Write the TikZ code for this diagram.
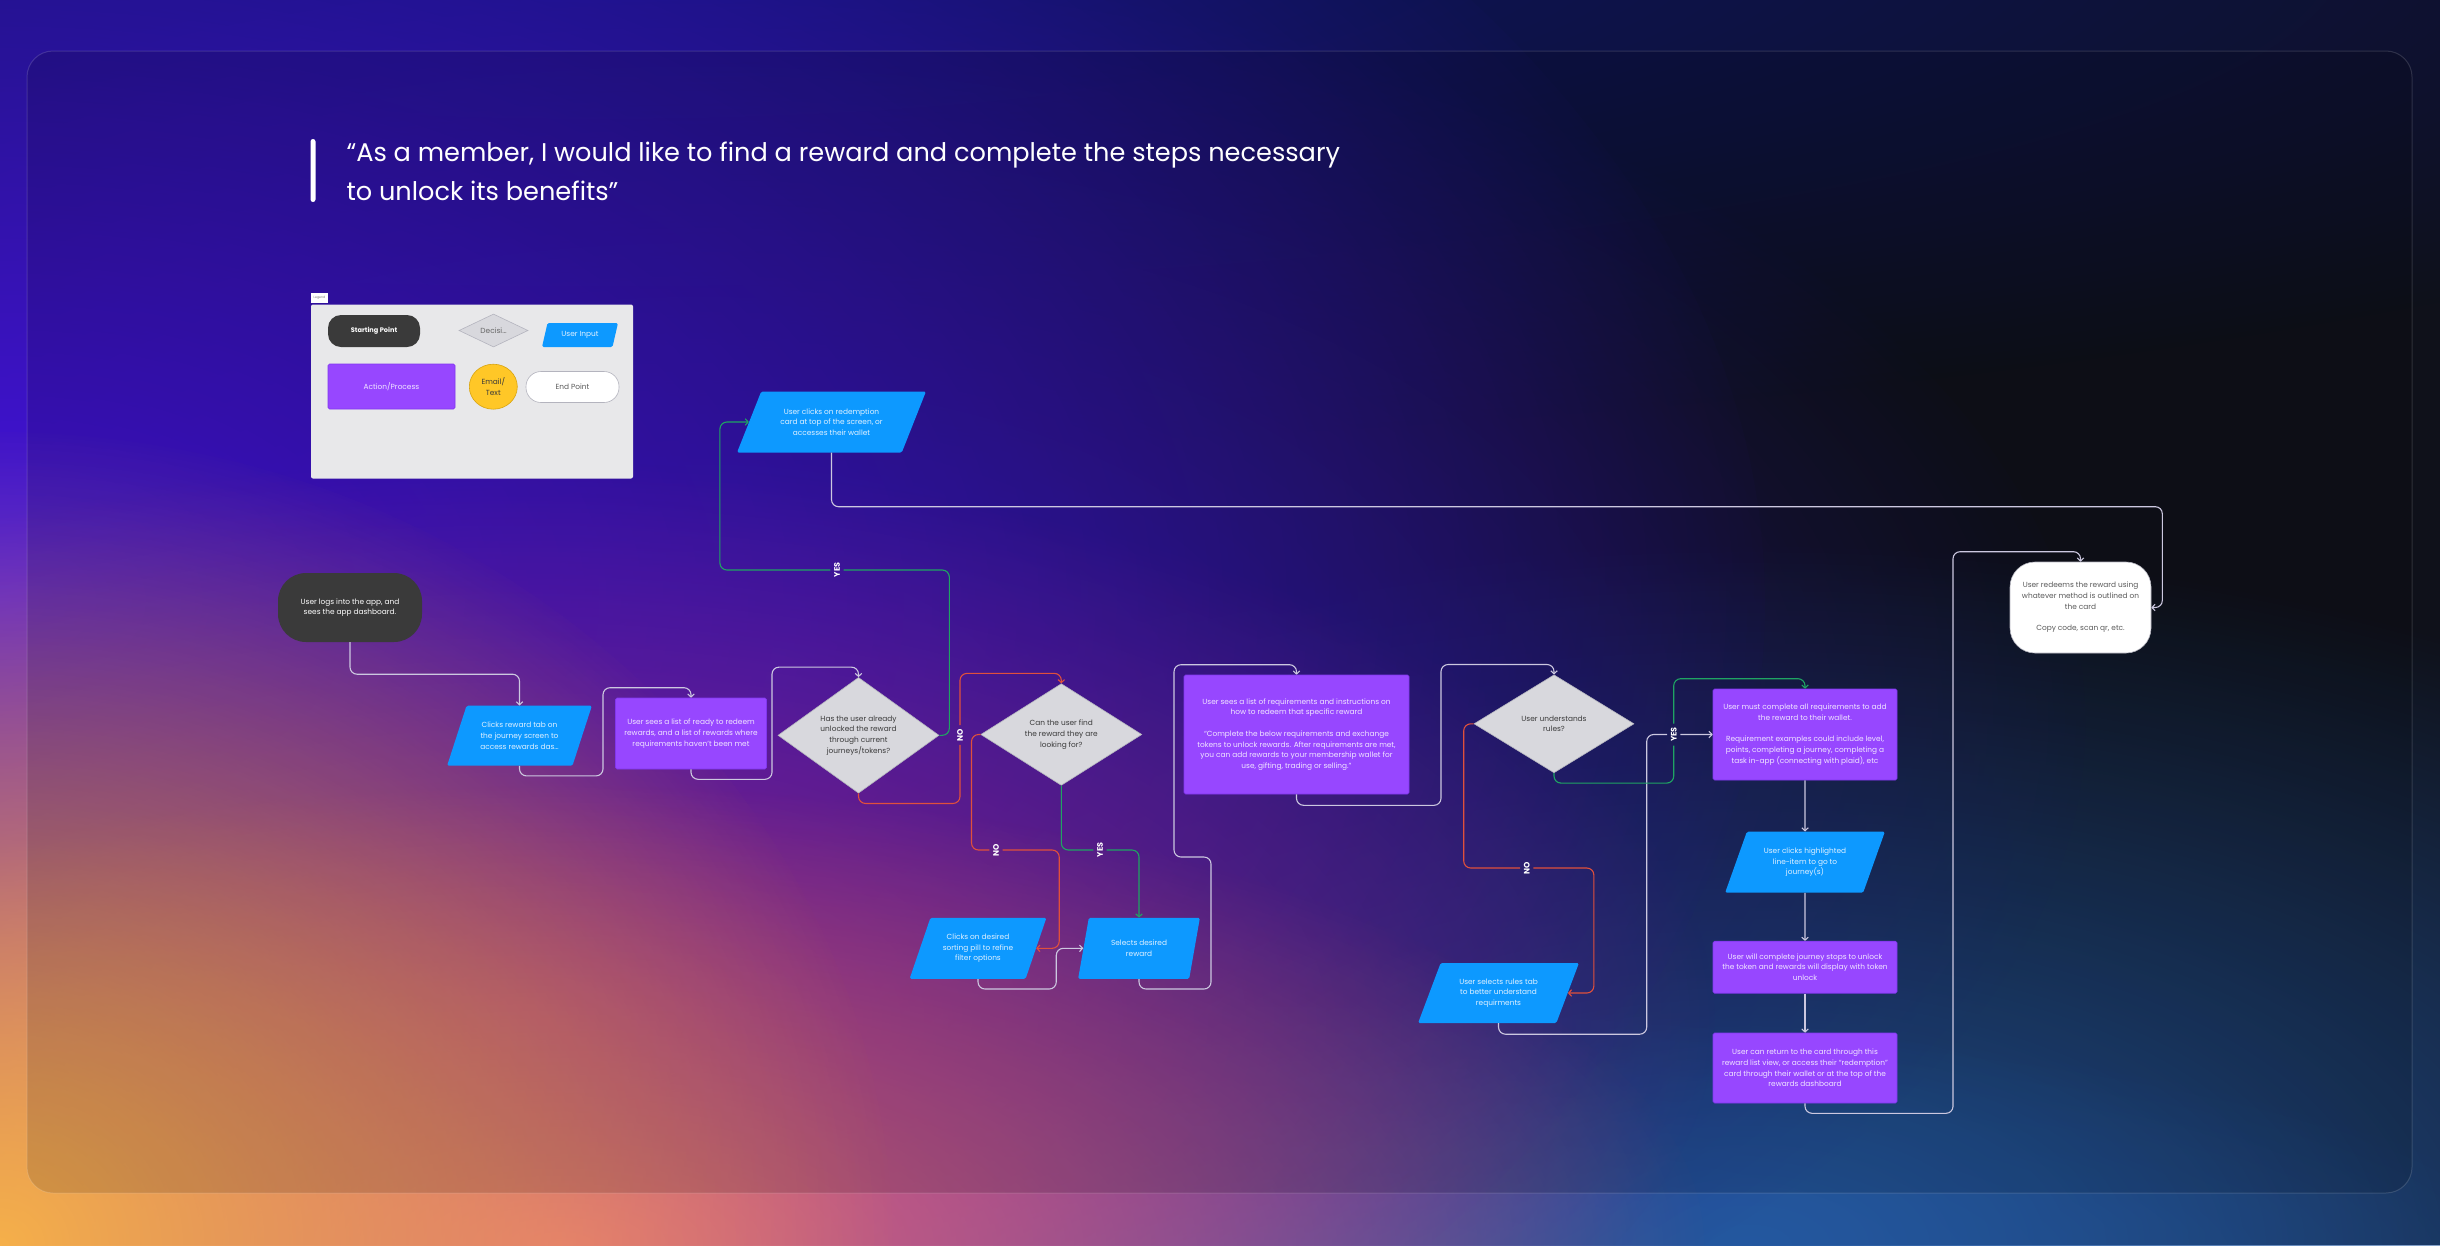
\documentclass[tikz,border=0pt]{standalone}
\usepackage{fontspec}
\setmainfont{Poppins}
\usetikzlibrary{shapes.geometric,arrows.meta,calc,fadings}

\definecolor{bgbase}{HTML}{0F111A}
\definecolor{navyglow}{HTML}{0C1468}
\definecolor{violetglow}{HTML}{4412E0}
\definecolor{indigoglow}{HTML}{2C1A9C}
\definecolor{plumglow}{HTML}{A02C9A}
\definecolor{pinkglow}{HTML}{DC6A7C}
\definecolor{orangeglow}{HTML}{F6B04A}
\definecolor{blueglow}{HTML}{2458A0}
\definecolor{startfill}{HTML}{3A3A3A}
\definecolor{procfill}{HTML}{9747FF}
\definecolor{procedge}{HTML}{8137EE}
\definecolor{proctext}{HTML}{F1E6FF}
\definecolor{infill}{HTML}{0D99FF}
\definecolor{intext}{HTML}{E0F1FF}
\definecolor{askfill}{HTML}{D8D8DD}
\definecolor{askedge}{HTML}{B4B4BE}
\definecolor{asktext}{HTML}{3A3A3A}
\definecolor{endtext}{HTML}{5A5A5A}
\definecolor{legendfill}{HTML}{E8E8EA}
\definecolor{mailfill}{HTML}{FFC727}
\definecolor{mailedge}{HTML}{D8A410}
\definecolor{wire}{HTML}{CCC8E0}
\definecolor{nowire}{HTML}{E0503C}
\definecolor{yeswire}{HTML}{1FA463}

\tikzfading[name=glow, inner color=transparent!0, outer color=transparent!100]

\tikzset{
  txt/.style={font=\fontsize{7.4}{10.7}\selectfont, align=center, inner sep=0},
  startbox/.style={txt, fill=startfill, text=white, rounded corners=28},
  process/.style={txt, fill=procfill, draw=procedge, line width=0.6, text=proctext, rounded corners=1.5},
  inputbox/.style={txt, trapezium, trapezium left angle=62, trapezium right angle=118,
    trapezium stretches=true, fill=infill, text=intext, rounded corners=1.5},
  decision/.style={txt, diamond, fill=askfill, draw=askedge, line width=0.6, text=asktext},
  endbox/.style={txt, fill=white, draw=askedge, line width=0.6, text=endtext, rounded corners=25},
  answer/.style={font=\bfseries\fontsize{8}{8}\selectfont, text=white, rotate=90, inner sep=3.5},
  flow/.style={draw=wire, line width=1.1, rounded corners=7, -{Straight Barb[length=3pt,width=6.5pt]}},
  noflow/.style={flow, draw=nowire},
  yesflow/.style={flow, draw=yeswire},
}

\begin{document}
\begin{tikzpicture}[x=1pt, y=-1pt]
            \useasboundingbox (0,0) rectangle (2440,1245);
            \clip (0,0) rectangle (2440,1245);

            % backdrop
            \fill[bgbase] (0,0) rectangle (2440,1245);
            \fill[navyglow, path fading=glow] (600,-50) ellipse (2600 and 500);
            \fill[blueglow, path fading=glow] (1750,1245) ellipse (1400 and 700);
            \fill[blueglow, path fading=glow] (1250,1260) ellipse (1300 and 260);
            \fill[indigoglow, path fading=glow] (700,720) ellipse (1400 and 760);
            \fill[violetglow, path fading=glow] (0,600) ellipse (1800 and 1100);
            \fill[plumglow, path fading=glow] (520,1020) ellipse (1200 and 560);
            \fill[pinkglow, path fading=glow] (560,1245) ellipse (1150 and 460);
            \fill[orangeglow, path fading=glow] (0,1245) ellipse (900 and 820);
            \fill[black, fill opacity=0.13, rounded corners=26] (27,51) rectangle (2412,1193);
            \draw[white, opacity=0.14, line width=1, rounded corners=26] (27,51) rectangle (2412,1193);

            % story
            \node[fill=white, minimum width=5, minimum height=63, inner sep=0, rounded corners=2.5] (bar) at (313,170.5) {};
            \node[anchor=west, align=left, text=white, font=\fontsize{25.6}{39}\selectfont] (story) at (343,171.5)
                {“As a member, I would like to find a reward and complete the steps necessary\\ to unlock its benefits”};

            % legend
            \node[fill=legendfill, rounded corners=2, minimum width=322, minimum height=174, inner sep=0] (legend) at (472,391.5) {};
            \node[fill=white, minimum width=17, minimum height=10, inner sep=0, text=gray, font=\fontsize{3.2}{3.2}\selectfont] (legendtag) at (319.5,297.7) {Legend};
            \node[startbox, rounded corners=13, minimum width=92, minimum height=32, font=\bfseries\fontsize{6.6}{8}\selectfont] (keystart) at (374,331) {Starting Point};
            \node[decision, minimum width=69, minimum height=33, text=gray!80!black] (keyask) at (493.5,330.5) {Decisi…};
            \node[inputbox, trapezium left angle=66, trapezium right angle=114, minimum width=76, minimum height=24] (keyinput) at (580,335) {User Input};
            \node[process, minimum width=127, minimum height=45] (keyprocess) at (391.5,386.5) {Action/Process};
            \node[txt, ellipse, fill=mailfill, draw=mailedge, line width=0.6, minimum width=48, minimum height=45, text=asktext] (keymail) at (493.3,386.7) {Email/\\Text};
            \node[endbox, rounded corners=15, minimum width=93, minimum height=31] (keyend) at (572.5,387) {End Point};

            % flow steps
            \node[startbox, minimum width=144, minimum height=69] (start) at (350,607.5) {User logs into the app, and\\sees the app dashboard.};
            \node[inputbox, minimum width=145, minimum height=60] (tab) at (519.5,735.7) {Clicks reward tab on\\the journey screen to\\access rewards das…};
            \node[process, minimum width=151, minimum height=71] (list) at (691,733.5) {User sees a list of ready to redeem\\rewards, and a list of rewards where\\requirements haven’t been met};
            \node[decision, minimum width=161, minimum height=97] (unlocked) at (858.5,735.3) {Has the user already\\unlocked the reward\\through current\\journeys/tokens?};
            \node[decision, minimum width=161, minimum height=97] (find) at (1061.3,734.5) {Can the user find\\the reward they are\\looking for?};
            \node[inputbox, trapezium left angle=57, trapezium right angle=123, minimum width=189, minimum height=61] (redeem) at (831.5,422) {User clicks on redemption\\card at top of the screen, or\\accesses their wallet};
            \node[inputbox, minimum width=137, minimum height=61] (sort) at (978,948.3) {Clicks on desired\\sorting pill to refine\\filter options};
            \node[inputbox, trapezium left angle=70, trapezium right angle=110, minimum width=122, minimum height=61] (select) at (1139,948.3) {Selects desired\\reward};
            \node[process, minimum width=225, minimum height=119] (req) at (1296.5,734.5) {User sees a list of requirements and instructions on\\how to redeem that specific reward\\[10.7pt]“Complete the below requirements and exchange\\tokens to unlock rewards. After requirements are met,\\you can add rewards to your membership wallet for\\use, gifting, trading or selling.”};
            \node[decision, minimum width=160, minimum height=98] (rules) at (1554,723.8) {User understands\\rules?};
            \node[inputbox, minimum width=161, minimum height=60] (ruletab) at (1498.5,993) {User selects rules tab\\to better understand\\requirments};
            \node[process, minimum width=184, minimum height=91] (must) at (1805,734.5) {User must complete all requirements to add\\the reward to their wallet.\\[10.7pt]Requirement examples could include level,\\points, completing a journey, completing a\\task in-app (connecting with plaid), etc};
            \node[inputbox, minimum width=160, minimum height=61] (lineitem) at (1805,862.2) {User clicks highlighted\\line-item to go to\\journey(s)};
            \node[process, minimum width=184, minimum height=52] (stops) at (1805,967.2) {User will complete journey stops to unlock\\the token and rewards will display with token\\unlock};
            \node[process, minimum width=184, minimum height=70] (back) at (1805,1068) {User can return to the card through this\\reward list view, or access their “redemption”\\card through their wallet or at the top of the\\rewards dashboard};
            \node[endbox, minimum width=141, minimum height=91] (final) at (2080.5,607.5) {User redeems the reward using\\whatever method is outlined on\\the card\\[10.7pt]Copy code, scan qr, etc.};

            % answers
            \node[answer] (yesA) at (837,570) {YES};
            \node[answer] (noA) at (960,735) {NO};
            \node[answer] (noB) at (996,850) {NO};
            \node[answer] (yesB) at (1100,850) {YES};
            \node[answer] (noC) at (1526.7,868) {NO};
            \node[answer] (yesC) at ($(must.west)+(-39,0)$) {YES};

            % connectors
            \draw[flow] (start.south) -- ++(0,32) -| (tab.north);
            \draw[flow] (tab.south) -- ++(0,10) -- ++(83.5,0) |- ($(list.north)+(0,-10)$) -- (list.north);
            \draw[flow] (list.south) -- ++(0,10) -- ++(81,0) |- ($(unlocked.north)+(0,-10)$) -- (unlocked.north);
            \draw[yesflow] (unlocked.east) -- ++(10,0) |- (yesA) -| ($(redeem.west)+(-29,0)$) -- (redeem.west);
            \draw[noflow] (unlocked.south) -- ++(0,10) -| (noA) |- ($(find.north)+(0,-10)$) -- (find.north);
            \draw[flow] (redeem.south) -- ++(0,54) -| ($(final.east)+(11,0)$) -- (final.east);
            \draw[noflow] (find.west) -- ++(-9,0) |- (noB) -| ($(sort.east)+(23,0)$) -- (sort.east);
            \draw[yesflow] (find.south) |- (yesB) -| (select.north);
            \draw[flow] (sort.south) -- ++(0,10) -| ($(select.west)+(-27,0)$) -- (select.west);
            \draw[flow] (select.south) -- ++(0,10) -- ++(72,0) -- ++(0,-132) -- ++(-37,0) |- ($(req.north)+(0,-10)$) -- (req.north);
            \draw[flow] (req.south) -- ++(0,11) -- ++(144.5,0) |- ($(rules.north)+(0,-10)$) -- (rules.north);
            \draw[noflow] (rules.west) -- ++(-10,0) |- (noC) -| ($(ruletab.east)+(26,0)$) -- (ruletab.east);
            \draw[flow] (ruletab.south) -- ++(0,11) -| ($(must.west)+(-66,0)$) -- (yesC) -- (must.west);
            \draw[yesflow] (rules.south) -- ++(0,10) -| (yesC) |- ($(must.north)+(0,-10)$) -- (must.north);
            \draw[flow] (must.south) -- (lineitem.north);
            \draw[flow] (lineitem.south) -- (stops.north);
            \draw[flow] (stops.south) -- (back.north);
            \draw[flow] (back.south) -- ++(0,10) -- ++(148,0) |- ($(final.north)+(0,-10)$) -- (final.north);

\end{tikzpicture}
\end{document}
